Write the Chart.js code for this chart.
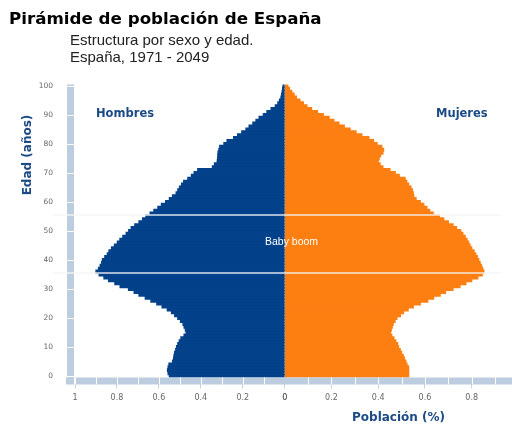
<!DOCTYPE html>
<html>
<head>
<meta charset="utf-8">
<script src="https://cdn.jsdelivr.net/npm/chart.js@4"></script>
<style>
  body { margin: 0; background: #fff; }
  #wrap { position: relative; width: 512px; height: 425px; overflow: hidden; }
  #chart { position: absolute; left: 0; top: 0; }
  .txt { position: absolute; white-space: nowrap; pointer-events: none; }
  .title { left: 9px; top: 10px; font: bold 16.7px "DejaVu Sans"; line-height: 17px; color: #000; }
  .sub { left: 70px; font: 15px "Liberation Sans"; line-height: 17px; color: #222; }
  .lab { font: bold 11.5px "DejaVu Sans"; line-height: 11.5px; color: #1b4a86; }
  .axt { font: bold 12px "DejaVu Sans"; line-height: 12px; color: #1b4a86; }
</style>
</head>
<body>
<div id="wrap">
  <canvas id="chart" width="512" height="425"></canvas>
  <div class="txt title">Pirámide de población de España</div>
  <div class="txt sub" style="top:31px">Estructura por sexo y edad.</div>
  <div class="txt sub" style="top:48px">España, 1971 - 2049</div>
  <div class="txt lab" style="left:96px; top:108px">Hombres</div>
  <div class="txt lab" style="left:436px; top:108px">Mujeres</div>
  <div class="txt" style="left:265px; top:236px; font:10.5px 'Liberation Sans'; line-height:10.5px; color:#fff">Baby boom</div>
  <div class="txt axt" style="left:352px; top:411px">Población (%)</div>
  <div class="txt axt" style="left:-33px; top:148px; width:120px; text-align:center; line-height:14px; transform:rotate(-90deg)">Edad (años)</div>
</div>
<script>
const ages = [0,1,2,3,4,5,6,7,8,9,10,11,12,13,14,15,16,17,18,19,20,21,22,23,24,25,26,27,28,29,30,
  31,32,33,34,35,36,37,38,39,40,41,42,43,44,45,46,47,48,49,50,51,52,53,54,55,56,57,58,59,60,
  61,62,63,64,65,66,67,68,69,70,71,72,73,74,75,76,77,78,79,80,81,82,83,84,85,86,87,88,89,90,
  91,92,93,94,95,96,97,98,99,100];

// % of population by single year of age
const hombres = [0.55,0.556,0.559,0.556,0.552,0.535,0.53,0.528,0.525,0.52,
  0.516,0.51,0.503,0.495,0.48,0.47,0.474,0.48,0.485,0.497,
  0.51,0.525,0.54,0.56,0.585,0.61,0.638,0.665,0.695,0.718,
  0.745,0.785,0.81,0.84,0.862,0.885,0.9,0.888,0.88,0.873,
  0.869,0.858,0.846,0.838,0.826,0.812,0.798,0.786,0.772,0.756,
  0.744,0.732,0.715,0.695,0.678,0.662,0.642,0.624,0.605,0.588,
  0.568,0.55,0.535,0.518,0.51,0.502,0.492,0.482,0.462,0.445,
  0.432,0.415,0.345,0.335,0.322,0.32,0.319,0.318,0.314,0.31,
  0.29,0.275,0.244,0.225,0.205,0.185,0.17,0.152,0.137,0.122,
  0.102,0.085,0.065,0.045,0.033,0.025,0.018,0.015,0.012,0.01,0.008];

const mujeres = [0.53,0.53,0.53,0.53,0.523,0.518,0.512,0.507,0.5,0.494,
  0.487,0.483,0.475,0.467,0.458,0.452,0.456,0.46,0.464,0.472,
  0.48,0.495,0.508,0.528,0.55,0.58,0.612,0.637,0.665,0.688,
  0.72,0.75,0.775,0.8,0.826,0.845,0.852,0.847,0.842,0.836,
  0.83,0.824,0.817,0.81,0.8,0.793,0.787,0.78,0.772,0.762,
  0.753,0.735,0.72,0.7,0.68,0.662,0.635,0.62,0.608,0.595,
  0.58,0.562,0.552,0.55,0.546,0.54,0.53,0.522,0.515,0.49,
  0.473,0.45,0.42,0.408,0.4,0.404,0.41,0.42,0.423,0.415,
  0.395,0.38,0.36,0.33,0.305,0.28,0.255,0.232,0.21,0.19,
  0.165,0.14,0.115,0.095,0.08,0.065,0.05,0.04,0.03,0.02,0.013];

const yTickLabels = [0,10,20,30,40,50,60,70,80,90,100];
const xMinorTicks = [0.1,0.2,0.3,0.4,0.5,0.6,0.7,0.8,0.9,1];
const boomLimits = [35.5, 55.5];

const BAND = '#bccde0';

// light blue axis bands with white separators + baby boom lines
const bandPlugin = {
  id: 'bands',
  afterDraw(chart) {
    const { ctx, chartArea: a, scales } = chart;
    const y = scales.y, xl = scales.xl, xr = scales.xr;
    ctx.save();
    ctx.fillStyle = BAND;
    ctx.fillRect(a.left - 8, a.top, 7, a.bottom - a.top + 1);
    ctx.fillRect(a.left - 9, a.bottom, chart.width - a.left + 9, 7);
    ctx.fillStyle = '#fff';
    yTickLabels.forEach(v => {
      const p = y.getPixelForValue(ages.indexOf(v));
      ctx.fillRect(a.left - 8, Math.round(p), 7, 1);
    });
    ctx.fillRect(a.left - 1, a.bottom, 1, 7);
    xMinorTicks.forEach(v => {
      ctx.fillRect(Math.round(xl.getPixelForValue(v)), a.bottom, 1, 7);
      if (v < xr.max) ctx.fillRect(Math.round(xr.getPixelForValue(v)), a.bottom, 1, 7);
    });
    ctx.strokeStyle = 'rgba(244,244,244,0.9)';
    ctx.lineWidth = 1.5;
    boomLimits.forEach(age => {
      const p = (y.getPixelForValue(Math.floor(age)) + y.getPixelForValue(Math.ceil(age))) / 2;
      ctx.beginPath();
      ctx.moveTo(a.left - 22, p);
      ctx.lineTo(a.right - 3, p);
      ctx.stroke();
    });
    ctx.restore();
  }
};

Chart.defaults.font.family = 'DejaVu Sans';

const tickFont = { size: 8 };
const fmt = v => String(+v.toFixed(1));

new Chart(document.getElementById('chart'), {
  type: 'bar',
  data: {
    labels: ages,
    datasets: [
      {
        label: 'Hombres',
        data: hombres,
        xAxisID: 'xl',
        yAxisID: 'y',
        backgroundColor: '#03418a',
        grouped: false,
        barPercentage: 1,
        categoryPercentage: 1,
        borderWidth: 0,
        inflateAmount: 0.6
      },
      {
        label: 'Mujeres',
        data: mujeres,
        xAxisID: 'xr',
        yAxisID: 'y',
        backgroundColor: '#fd7f12',
        grouped: false,
        barPercentage: 1,
        categoryPercentage: 1,
        borderWidth: 0,
        inflateAmount: 0.6
      }
    ]
  },
  options: {
    indexAxis: 'y',
    responsive: false,
    animation: false,
    layout: { padding: { left: 0, top: 84.5, right: 7, bottom: 12.5 } },
    plugins: { legend: { display: false }, tooltip: { enabled: false } },
    scales: {
      y: {
        type: 'category',
        reverse: true,
        afterFit(s) { s.width = 75; },
        border: { display: false },
        grid: { drawOnChartArea: false, color: 'rgba(0,0,0,0)', tickLength: 8 },
        ticks: {
          autoSkip: false,
          padding: 14,
          color: '#666',
          font: { size: 7.5 },
          callback(v) {
            const age = ages[v];
            return yTickLabels.includes(age) ? String(age) : '';
          }
        }
      },
      xl: {
        type: 'linear',
        position: 'bottom',
        stack: 'x',
        stackWeight: 210,
        reverse: true,
        min: 0,
        max: 1,
        afterFit(s) { s.height = 35; },
        border: { display: false },
        grid: { drawOnChartArea: false, tickLength: 11, color: '#c5d3e2' },
        ticks: { stepSize: 0.2, padding: 5, color: '#666', font: tickFont, maxRotation: 0, autoSkip: false, callback: fmt }
      },
      xr: {
        type: 'linear',
        position: 'bottom',
        stack: 'x',
        stackWeight: 220,
        min: 0,
        max: 0.94,
        afterFit(s) { s.height = 35; },
        border: { display: false },
        grid: { drawOnChartArea: false, tickLength: 11, color: '#c5d3e2' },
        ticks: { stepSize: 0.2, includeBounds: false, padding: 5, color: '#666', font: tickFont, maxRotation: 0, autoSkip: false, callback: fmt }
      }
    }
  },
  plugins: [bandPlugin]
});
</script>
</body>
</html>
